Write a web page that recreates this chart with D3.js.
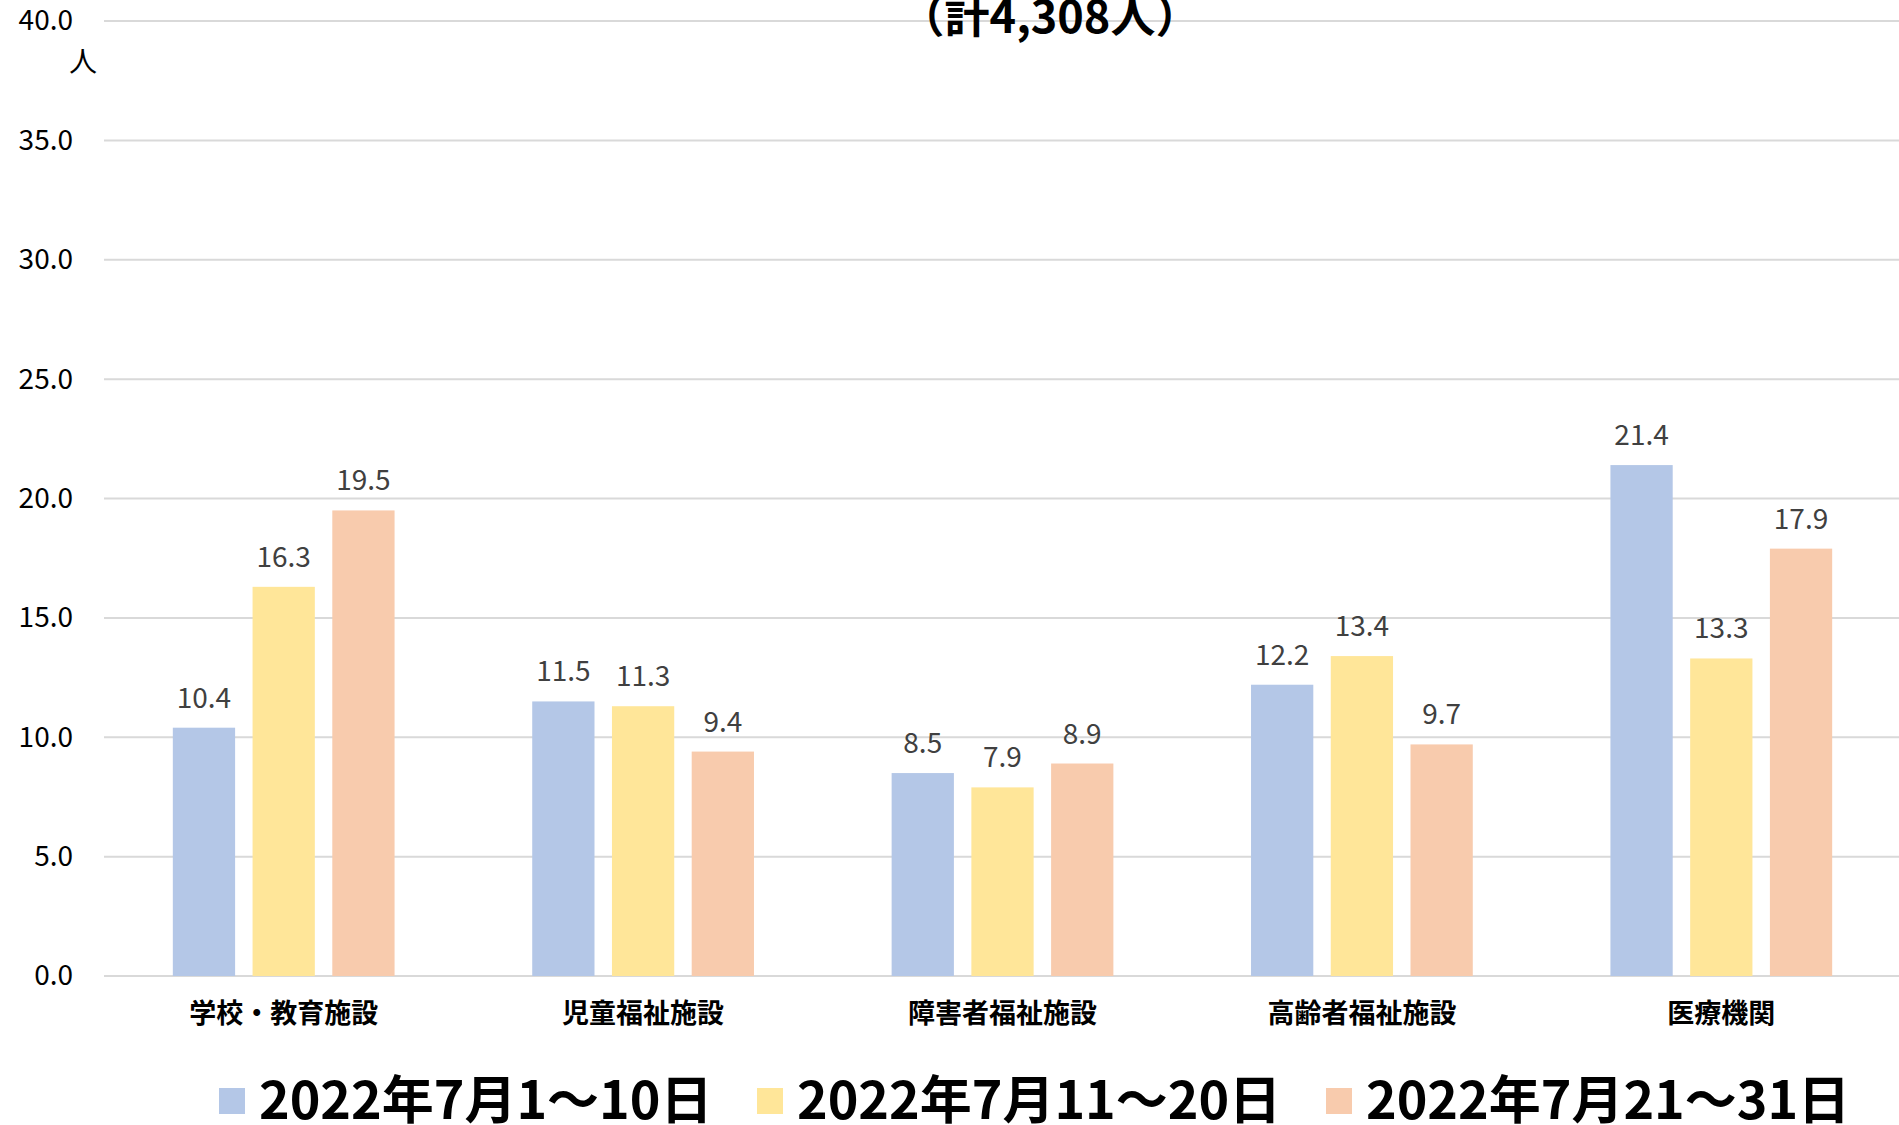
<!DOCTYPE html>
<html>
<head>
<meta charset="utf-8">
<script src="https://cdn.jsdelivr.net/npm/d3@7"></script>
<style>
  body { margin: 0; background: #fff; }
  svg { display: block; font-family: "Noto Sans CJK JP", "Noto Sans", sans-serif; }
</style>
</head>
<body>
<svg id="chart" width="1899" height="1125"></svg>
<script>
var categories = ["学校・教育施設", "児童福祉施設", "障害者福祉施設", "高齢者福祉施設", "医療機関"];
var seriesNames = ["2022年7月1～10日", "2022年7月11～20日", "2022年7月21～31日"];
var series1 = [10.4, 11.5, 8.5, 12.2, 21.4];
var series2 = [16.3, 11.3, 7.9, 13.4, 13.3];
var series3 = [19.5, 9.4, 8.9, 9.7, 17.9];
var yTicks = [0, 5, 10, 15, 20, 25, 30, 35, 40];
var colors = ["#B4C7E7", "#FFE699", "#F8CBAD"];

var seriesValues = [series1, series2, series3];
var data = categories.map(function(c, i) {
  return { cat: c, vals: seriesNames.map(function(s, j) { return { key: s, value: seriesValues[j][i] }; }) };
});

var svg = d3.select("#chart"),
    margin = {top: 21, right: 0, bottom: 149, left: 104},
    width = 1899 - margin.left + 2,
    height = 1125 - margin.top - margin.bottom;

var x0 = d3.scaleBand().domain(categories).range([0, width]).paddingInner(0.383).paddingOuter(0.1915);
var x1 = d3.scaleBand().domain(seriesNames).range([0, x0.bandwidth()]).paddingInner(0.219);
var y = d3.scaleLinear().domain([0, 40]).range([height, 0]);

var g = svg.append("g").attr("transform", "translate(" + margin.left + "," + margin.top + ")");

// gridlines
g.selectAll(".grid")
  .data(yTicks)
  .enter().append("line")
    .attr("x1", 0).attr("x2", width)
    .attr("y1", function(d) { return y(d); }).attr("y2", function(d) { return y(d); })
    .attr("stroke", "#D9D9D9").attr("stroke-width", 2);

// y axis labels
var yAxis = g.append("g")
    .call(d3.axisLeft(y).tickValues(yTicks).tickFormat(d3.format(".1f")).tickSize(0).tickPadding(31));
yAxis.select(".domain").remove();
yAxis.selectAll("text").attr("font-size", 28).attr("fill", "#000").attr("font-family", "Noto Sans CJK JP");

svg.append("text")
  .attr("x", 83).attr("y", 72)
  .attr("text-anchor", "middle")
  .attr("font-size", 28)
  .text("人");

// title (cut at top)
svg.append("text")
  .attr("x", 1050).attr("y", 33)
  .attr("text-anchor", "middle")
  .attr("font-size", 45)
  .attr("font-weight", "bold")
  .text("（計4,308人）");

// bars
var groups = g.selectAll(".group")
  .data(data)
  .enter().append("g")
    .attr("transform", function(d) { return "translate(" + x0(d.cat) + ",0)"; });

groups.selectAll("rect")
  .data(function(d) { return d.vals; })
  .enter().append("rect")
    .attr("x", function(d) { return x1(d.key); })
    .attr("y", function(d) { return y(d.value); })
    .attr("width", x1.bandwidth())
    .attr("height", function(d) { return height - y(d.value); })
    .attr("fill", function(d, i) { return colors[i]; });

groups.selectAll(".lbl")
  .data(function(d) { return d.vals; })
  .enter().append("text")
    .attr("class", "lbl")
    .attr("x", function(d) { return x1(d.key) + x1.bandwidth() / 2; })
    .attr("y", function(d) { return y(d.value) - 20; })
    .attr("text-anchor", "middle")
    .attr("font-size", 28)
    .attr("fill", "#404040")
    .text(function(d) { return d3.format(".1f")(d.value); });

// x axis labels
var xAxis = g.append("g")
    .attr("transform", "translate(0," + height + ")")
    .call(d3.axisBottom(x0).tickSize(0).tickPadding(28));
xAxis.select(".domain").remove();
xAxis.selectAll("text")
  .attr("font-size", 27).attr("font-weight", "bold").attr("fill", "#000")
  .attr("font-family", "Noto Sans CJK JP");

// legend
var legendX = [219, 757, 1326];
var legend = svg.selectAll(".legend")
  .data(seriesNames)
  .enter().append("g")
    .attr("transform", function(d, i) { return "translate(" + legendX[i] + ",0)"; });
legend.append("rect")
  .attr("x", 0).attr("y", 1088).attr("width", 26).attr("height", 26)
  .attr("fill", function(d, i) { return colors[i]; });
legend.append("text")
  .attr("x", 40).attr("y", 1119)
  .attr("font-size", 52)
  .attr("font-weight", "bold")
  .text(function(d) { return d; });
</script>
</body>
</html>
